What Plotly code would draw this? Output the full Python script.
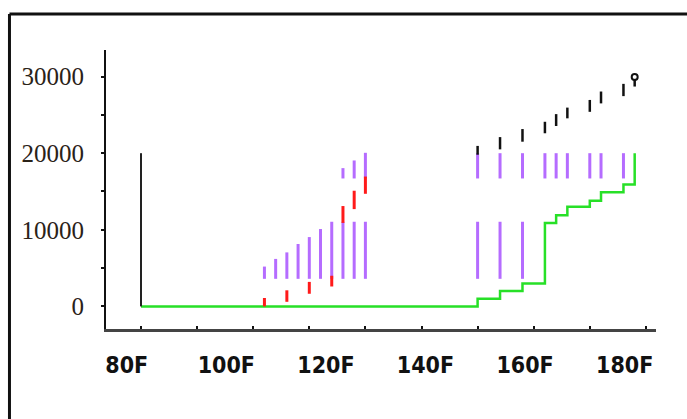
import plotly.graph_objects as go

# ---- data ----
# x positions are in grid units (tick marks every 5 units)
purple_low_x = [11, 12, 13, 14, 15, 16, 17, 18, 19, 20, 30, 32, 34]
purple_low_lo = [3600, 3600, 3600, 3600, 3600, 3600, 3600, 3600, 3600, 3600, 3600, 3600, 3600]
purple_low_hi = [5200, 6200, 7050, 8150, 9050, 10100, 11050, 11050, 11050, 11050, 11050, 11050, 11050]

purple_up_x = [18, 19, 20, 30, 32, 34, 36, 37, 38, 40, 41, 43]
purple_up_lo = [16700, 16700, 16700, 16700, 16700, 16700, 16700, 16700, 16700, 16700, 16700, 16700]
purple_up_hi = [18050, 19050, 20050, 20000, 20000, 20000, 20000, 20000, 20000, 20000, 20000, 20000]

red_x = [11, 13, 15, 17, 18, 19, 20]
red_lo = [0, 600, 1650, 2600, 10900, 12700, 14700]
red_hi = [1100, 2100, 3200, 4000, 13100, 15100, 16950]

black_x = [30, 32, 34, 36, 37, 38, 40, 41, 43, 44]
black_lo = [19800, 20500, 21500, 22600, 23550, 24550, 25400, 26500, 27450, 28700]
black_hi = [20950, 22100, 23150, 24100, 25100, 25950, 26950, 28050, 29050, 29700]
last_marker_x = [44]
last_marker_y = [29950]

green_x = [0, 30, 32, 34, 36, 37, 38, 40, 41, 43, 44]
green_y = [0, 1000, 2000, 3000, 10900, 11900, 13000, 13800, 14900, 15900, 20000]

start_x = [0, 0]
start_y = [0, 20000]

y_tick_vals = [0, 5000, 10000, 15000, 20000, 25000, 30000]
y_tick_text = ["0", "", "10000", "", "20000", "", "30000"]
x_grid_ticks = [0, 5, 10, 15, 20, 25, 30, 35, 40, 45]
x_label_vals = [80, 100, 120, 140, 160, 180]
x_label_text = ["80F", "100F", "120F", "140F", "160F", "180F"]


def segs(xs, los, his):
    X, Y = [], []
    for x, lo, hi in zip(xs, los, his):
        X += [x, x, None]
        Y += [lo, hi, None]
    return X, Y


fig = go.Figure()

px_, py_ = segs(purple_low_x, purple_low_lo, purple_low_hi)
fig.add_trace(go.Scatter(x=px_, y=py_, mode="lines",
                         line=dict(color="#b56cff", width=3), hoverinfo="skip"))
px_, py_ = segs(purple_up_x, purple_up_lo, purple_up_hi)
fig.add_trace(go.Scatter(x=px_, y=py_, mode="lines",
                         line=dict(color="#b56cff", width=3), hoverinfo="skip"))

fig.add_trace(go.Scatter(x=green_x, y=green_y, mode="lines", line_shape="hv",
                         line=dict(color="#27e027", width=2.5), hoverinfo="skip"))

fig.add_trace(go.Scatter(x=start_x, y=start_y, mode="lines",
                         line=dict(color="#222222", width=2), hoverinfo="skip"))

rx, ry = segs(red_x, red_lo, red_hi)
fig.add_trace(go.Scatter(x=rx, y=ry, mode="lines",
                         line=dict(color="#ff1a1a", width=3), hoverinfo="skip"))

bx, by = segs(black_x, black_lo, black_hi)
fig.add_trace(go.Scatter(x=bx, y=by, mode="lines",
                         line=dict(color="#111111", width=2.5), hoverinfo="skip"))
fig.add_trace(go.Scatter(x=last_marker_x, y=last_marker_y, mode="markers",
                         marker=dict(symbol="circle-open", size=6, color="#111111",
                                     line=dict(color="#111111", width=2)),
                         hoverinfo="skip"))

# invisible trace so that the label axis (x2) is drawn
fig.add_trace(go.Scatter(x=x_label_vals, y=[None] * len(x_label_vals), xaxis="x2",
                         mode="markers", marker=dict(opacity=0), hoverinfo="skip"))

fig.update_layout(
    width=687, height=419,
    margin=dict(l=106, r=31, t=50, b=90),
    paper_bgcolor="white", plot_bgcolor="white",
    showlegend=False,
    xaxis=dict(range=[-3.12, 45.9], showgrid=False, zeroline=False,
               showline=True, linecolor="#444444", linewidth=3,
               tickmode="array", tickvals=x_grid_ticks, showticklabels=False,
               ticks="inside", ticklen=3, tickwidth=2, tickcolor="#111111"),
    xaxis2=dict(overlaying="x", anchor="y", side="bottom",
                range=[75.84, 186.29], showgrid=False, zeroline=False,
                showline=False, ticks="",
                tickmode="array", tickvals=x_label_vals, ticktext=x_label_text,
                ticklabelstandoff=20,
                tickfont=dict(family="Liberation Sans Narrow, DejaVu Sans Condensed, Arial Narrow",
                              size=23, color="#111111", weight="bold")),
    yaxis=dict(range=[-2950, 33470], showgrid=False, zeroline=False,
               showline=True, linecolor="#111111", linewidth=2,
               tickmode="array", tickvals=y_tick_vals, ticktext=y_tick_text,
               ticks="outside", ticklen=3, tickwidth=2, tickcolor="#111111",
               ticklabelstandoff=12,
               tickfont=dict(family="Liberation Serif, Times New Roman, serif",
                             size=25, color="#2a2218")),
    shapes=[
        dict(type="line", xref="paper", yref="paper",
             x0=-0.1755, x1=1.1, y0=1.129, y1=1.129,
             line=dict(color="#111111", width=3)),
        dict(type="line", xref="paper", yref="paper",
             x0=-0.1755, x1=-0.1755, y0=1.129, y1=-0.5,
             line=dict(color="#111111", width=3)),
    ],
)

fig.write_html("out.html", config={"displayModeBar": False},
               post_script="document.body.style.margin='0';")
